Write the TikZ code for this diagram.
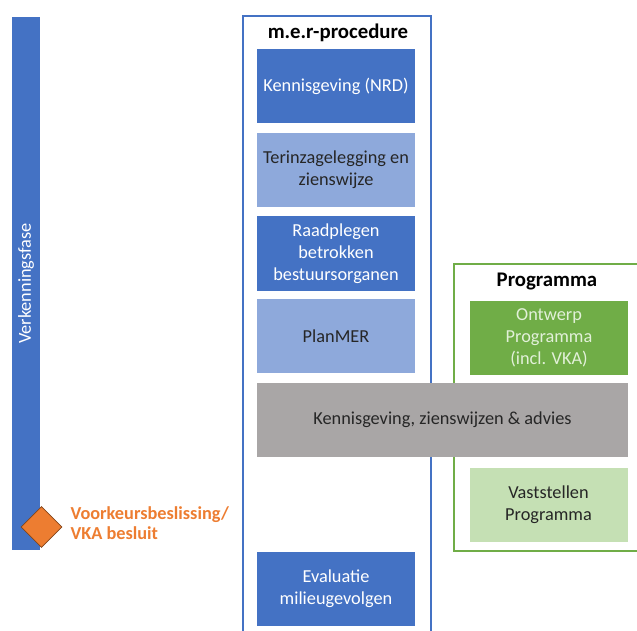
\documentclass[tikz,border=0pt]{standalone}
\usepackage{fontspec}
\setmainfont{Carlito}
\usetikzlibrary{shapes.geometric}
\definecolor{dblue}{HTML}{4472C4}
\definecolor{lblue}{HTML}{8EA9DB}
\definecolor{mgreen}{HTML}{70AD47}
\definecolor{lgreen}{HTML}{C5E0B4}
\definecolor{ggrey}{HTML}{A9A6A6}
\definecolor{orng}{HTML}{ED7D31}
\definecolor{dtext}{HTML}{262626}
\definecolor{gtext}{HTML}{E2F0D9}
\tikzset{
  stepbox/.style={minimum width=158pt, minimum height=74pt, inner sep=0pt, align=center,
    font=\fontsize{18.3}{22}\selectfont},
  darkbox/.style={stepbox, fill=dblue, text=white},
  lightbox/.style={stepbox, fill=lblue, text=dtext},
  frame/.style={line width=2pt},
  ttl/.style={font=\fontsize{20.8}{24}\selectfont\bfseries, text=black},
}
\begin{document}
\begin{tikzpicture}[x=1pt,y=-1pt]
\useasboundingbox (0,0) rectangle (637,631);
\begin{scope}
\clip (0,0) rectangle (637,631);
% left bar
\node[fill=dblue, minimum width=533pt, minimum height=28pt, inner sep=0pt,
  text=white, font=\fontsize{18.3}{22}\selectfont, rotate=90] (bar) at (26,283.5) {Verkenningsfase};
\node[diamond, fill=orng, draw=orng!55!black, line width=0.8pt, minimum width=41pt, minimum height=41pt, inner sep=0pt] (dia) at (41.5,527) {};
\node[anchor=west, align=left, text=orng, font=\fontsize{18.3}{19.5}\selectfont\bfseries] (vka) at (67,523) {Voorkeursbeslissing/\\VKA besluit};
% m.e.r frame
\draw[frame, dblue] (242.5,16) rectangle (430.5,650);
\node[ttl] (mert) at (338,33) {m.e.r-procedure};
\node[darkbox] (k1) at (336,86.5) {Kennisgeving (NRD)};
\node[lightbox] (k2) at (336,170) {Terinzagelegging en\\zienswijze};
\node[darkbox] (k3) at (336,253.5) {Raadplegen\\betrokken\\bestuursorganen};
\node[lightbox] (k4) at (336,336) {PlanMER};
\node[darkbox] (k5) at (336,588.5) {Evaluatie\\milieugevolgen};
% programma frame
\draw[frame, mgreen] (453.5,263.5) rectangle (660,551);
\node[ttl] (pt) at (547,282) {Programma};
\node[stepbox, fill=mgreen, text=gtext] (p1) at (549,338) {Ontwerp\\Programma\\(incl. VKA)};
\node[stepbox, fill=lgreen, text=dtext] (p2) at (548.5,504.5) {Vaststellen\\Programma};
% grey band
\node[stepbox, minimum width=371pt, fill=ggrey, text=dtext] (grey) at (442.5,420) {Kennisgeving, zienswijzen \& advies};
\end{scope}
\end{tikzpicture}
\end{document}
